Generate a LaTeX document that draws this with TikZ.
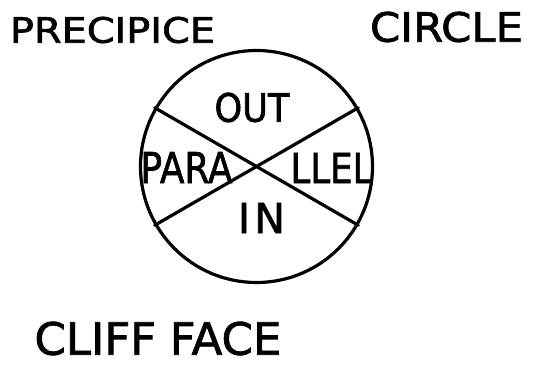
\documentclass[tikz,border=0pt]{standalone}
\usepackage{fontspec}
\setmainfont{DejaVu Sans}[FakeBold=1.6]
\usetikzlibrary{positioning}
\tikzset{
 word/.style={inner sep=0pt,outer sep=0pt,anchor=center},
 ring/.style={draw,circle,line width=3.2pt,minimum size=232pt,inner sep=0pt},
 split/.style={line width=3.2pt,line cap=round}
}
\newcommand{\fitword}[3]{\resizebox{#1pt}{#2pt}{#3}}

\begin{document}
\begin{tikzpicture}[x=1pt,y=-1pt]
\useasboundingbox (0,0) rectangle (541,366);
\node[ring] (disc) at (256.5,166.5) {};
\draw[split] (disc.150)--(disc.-30);
\draw[split] (disc.30)--(disc.210);
\node[word] (out) at (252,107.5) {\fitword{75}{29}{OUT}};
\node[word] (para) at (186.5,167.5) {\fitword{92}{31}{PARA}};
\node[word] (llel) at (331.5,168) {\fitword{82}{30}{LLEL}};
\node[word] (in) at (261.5,218) {\fitword{47}{30}{I\kern1pt N}};
\node[word] (prec) at (112.5,30) {\fitword{205}{26}{PRECIPICE}};
\node[word] (circ) at (446.5,27) {\fitword{153}{30}{CIRCLE}};
\node[word] (cliff) at (158,338.5) {\fitword{247}{33}{CLIFF\kern3pt FACE}};
\end{tikzpicture}
\end{document}
